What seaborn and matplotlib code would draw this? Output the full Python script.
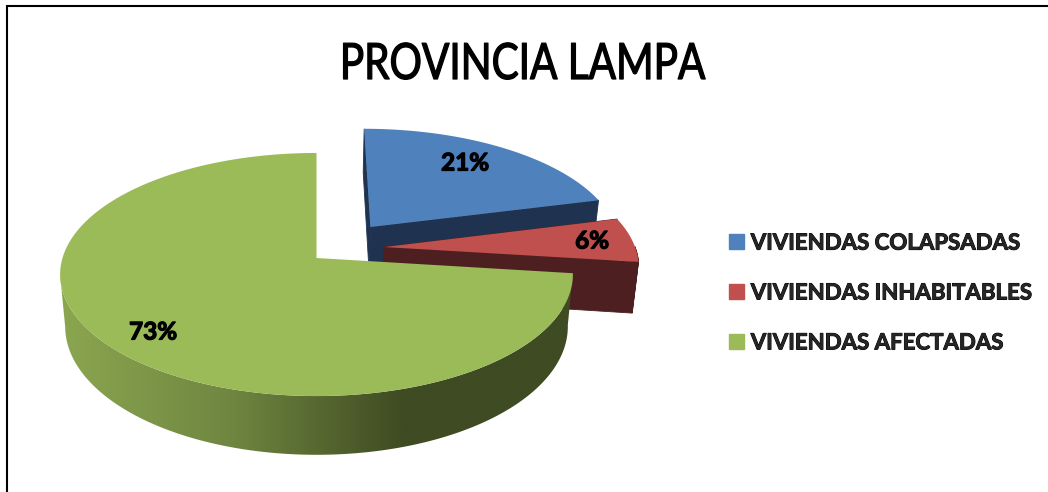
import numpy as np
import matplotlib
matplotlib.use("Agg")
import matplotlib.pyplot as plt
import matplotlib.patheffects as pe
from matplotlib.patches import Patch, Polygon
from matplotlib.transforms import Affine2D
import seaborn as sns

title = "PROVINCIA LAMPA"
labels = ["VIVIENDAS COLAPSADAS", "VIVIENDAS INHABITABLES", "VIVIENDAS AFECTADAS"]
values = [21, 6, 73]

top_colors = ["#4f81bd", "#c0504d", "#9bbb59"]
wall_colors = ["#1f3350", "#4e1f20", None]

# how far each slice is pulled out of the pie, in disk units
explode = [(0.22, 0.27), (0.27, 0.093), (0.0, 0.0)]
# percent labels, pixel position
label_pos = [(465, 163), (592, 241), (153, 332)]

# perspective of the two disk planes: y0, A, C
TILT = 0.1358
X0 = 316.5
TOP = (258, 119.3, 254)
BOTTOM = (309, 126, 249)


class Squeezed(pe.AbstractPathEffect):
    # narrows the glyphs around a pixel x, no condensed font is installed
    def __init__(self, sx, cx, width):
        super().__init__()
        self.sx, self.cx, self.width = sx, cx, width

    def draw_path(self, renderer, gc, tpath, affine, rgbFace=None):
        aff = affine + Affine2D().translate(-self.cx, 0).scale(self.sx, 1).translate(self.cx, 0)
        gc0 = renderer.new_gc()
        gc0.copy_properties(gc)
        gc0.set_foreground("black")
        gc0.set_linewidth(self.width)
        renderer.draw_path(gc0, tpath, aff, rgbFace)
        gc0.restore()


def project(u, v, plane):
    y0, a, c = plane
    w = 1 + TILT * v
    return X0 + c * u / w, y0 - a * v / w


def slice_outline(t1, t2, off):
    t = np.radians(np.linspace(t1, t2, int(abs(t2 - t1)) * 2 + 2))
    u = np.r_[0, np.cos(t), 0] + off[0]
    v = np.r_[0, np.sin(t), 0] + off[1]
    return u, v


def draw_slice(ax, t1, t2, off, top_col, wall_col):
    u, v = slice_outline(t1, t2, off)
    xt, yt = project(u, v, TOP)
    xb, yb = project(u, v, BOTTOM)
    # walls first, one quad per outline step, the top goes over them
    if wall_col is not None:
        for i in range(len(u) - 1):
            # arc steps facing away from the viewer stay out
            is_arc = 0 < i < len(u) - 2
            if is_arc and v[i] - off[1] > 0 and v[i + 1] - off[1] > 0:
                continue
            xs = [xt[i], xt[i + 1], xb[i + 1], xb[i]]
            ys = [yt[i], yt[i + 1], yb[i + 1], yb[i]]
            ax.fill(xs, ys, color=wall_col, lw=0.6, zorder=2)
    ax.fill(xt, yt, color=top_col, lw=0, zorder=4)


def draw_gradient_wall(ax, t_from, t_to, off):
    # front band of the big slice, shaded left to right
    t = np.radians(np.linspace(t_from, t_to, 200))
    u = np.cos(t) + off[0]
    v = np.sin(t) + off[1]
    xt, yt = project(u, v, TOP)
    xb, yb = project(u, v, BOTTOM)
    band = Polygon(np.c_[np.r_[xt, xb[::-1]], np.r_[yt, yb[::-1]]], closed=True,
                   transform=ax.transData, fc="none", ec="none")
    ax.add_patch(band)
    cmap = sns.blend_palette(["#8ba650", "#6f8640", "#3f4b22", "#3f4b22"], as_cmap=True)
    grad = np.linspace(0, 1, 512).reshape(1, -1)
    im = ax.imshow(grad, cmap=cmap, extent=(60, 575, 460, 260), aspect="auto", zorder=3)
    im.set_clip_path(band)


sns.set_theme(style="white")
plt.rcParams["font.family"] = ["Lato", "DejaVu Sans"]

fig = plt.figure(figsize=(10.48, 4.92), dpi=100)
ax = fig.add_axes([0, 0, 1, 1])
ax.axis("off")

ax.plot([7, 7, 1048], [492, 5.5, 5.5], color="black", lw=1.5, solid_joinstyle="miter", zorder=1)

bold = [pe.withStroke(linewidth=0.9, foreground="black")]

# clockwise from 12 o'clock, like the spreadsheet does it
angle = 90.0
for i, val in enumerate(values):
    sweep = val * 3.6
    draw_slice(ax, angle, angle - sweep, explode[i], top_colors[i], wall_colors[i])
    if i == 2:
        # the band starts where the rim turns away at the far left
        draw_gradient_wall(ax, -172, angle, explode[i])
    ax.text(label_pos[i][0], label_pos[i][1], f"{val}%", ha="center", va="center",
            fontsize=17.5, fontweight="bold", color="black", zorder=5, path_effects=bold)
    angle -= sweep

ax.text(523, 65, title, ha="center", va="center", fontsize=36, color="black", zorder=5,
        path_effects=[Squeezed(0.81, 523, 0.9)])

handles = [Patch(color=c, label=l) for c, l in zip(top_colors, labels)]
leg = ax.legend(handles=handles, loc="center left", bbox_to_anchor=(729 / 1048, 1 - 293 / 492),
                frameon=False, prop={"weight": "bold", "size": 16},
                handlelength=0.68, handleheight=0.68, handletextpad=0.3, labelspacing=1.3,
                borderpad=0, borderaxespad=0)
for txt in leg.get_texts():
    txt.set_path_effects([pe.withStroke(linewidth=0.7, foreground="black")])

ax.set_xlim(0, 1048)
ax.set_ylim(492, 0)

fig.savefig("out.png", dpi=100)
